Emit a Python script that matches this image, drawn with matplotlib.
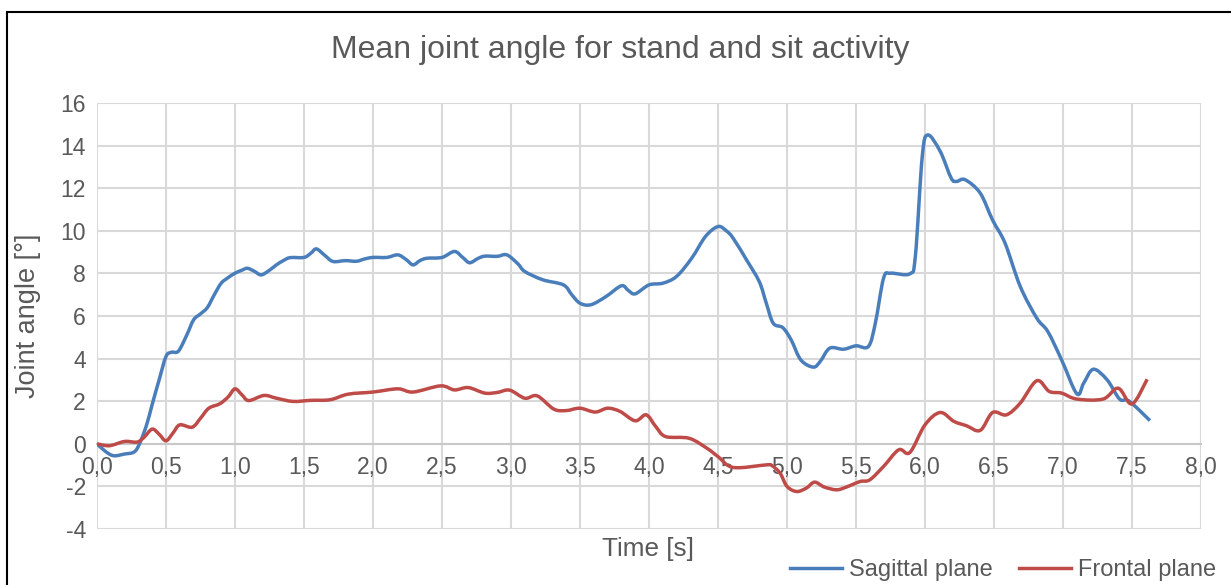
import matplotlib
matplotlib.use("Agg")
import matplotlib.pyplot as plt
from matplotlib.patches import Rectangle, PathPatch
from matplotlib.path import Path
from matplotlib.lines import Line2D
from matplotlib.ticker import FixedLocator

plt.rcParams['font.family'] = ['Liberation Sans', 'DejaVu Sans']
plt.rcParams['axes.unicode_minus'] = False

# Sagittal plane joint angle (degrees) vs time (s)
t_sag = [0.00, 0.06, 0.12, 0.20, 0.27, 0.31, 0.36, 0.40, 0.45, 0.50,
         0.54, 0.59, 0.65, 0.70, 0.75, 0.80, 0.85, 0.90, 0.95, 1.00,
         1.05, 1.09, 1.14, 1.19, 1.25, 1.30, 1.35, 1.40, 1.50, 1.55,
         1.59, 1.65, 1.71, 1.80, 1.88, 1.94, 2.00, 2.10, 2.18, 2.24,
         2.29, 2.34, 2.39, 2.50, 2.59, 2.65, 2.70, 2.76, 2.81, 2.90,
         2.97, 3.05, 3.10, 3.23, 3.38, 3.44, 3.50, 3.58, 3.69, 3.80,
         3.85, 3.90, 4.00, 4.10, 4.20, 4.31, 4.41, 4.50, 4.56, 4.61,
         4.71, 4.80, 4.85, 4.90, 4.97, 5.03, 5.10, 5.19, 5.24, 5.31,
         5.41, 5.50, 5.59, 5.64, 5.70, 5.75, 5.89, 5.93, 5.98, 6.02,
         6.11, 6.19, 6.23, 6.29, 6.40, 6.49, 6.58, 6.69, 6.81, 6.89,
         6.99, 7.10, 7.15, 7.22, 7.32, 7.41, 7.48, 7.63]
sagittal = [0.00, -0.35, -0.56, -0.48, -0.38, 0.03, 0.90, 1.85, 3.00, 4.10,
            4.30, 4.35, 5.10, 5.82, 6.10, 6.40, 7.00, 7.54, 7.80, 8.01,
            8.15, 8.24, 8.10, 7.93, 8.15, 8.40, 8.60, 8.74, 8.75, 8.95,
            9.15, 8.85, 8.56, 8.60, 8.57, 8.68, 8.75, 8.75, 8.87, 8.65,
            8.40, 8.60, 8.71, 8.75, 9.03, 8.75, 8.50, 8.70, 8.81, 8.80,
            8.87, 8.45, 8.09, 7.70, 7.46, 7.00, 6.60, 6.53, 6.92, 7.42,
            7.20, 7.04, 7.46, 7.54, 7.86, 8.72, 9.74, 10.20, 10.00, 9.65,
            8.60, 7.60, 6.60, 5.66, 5.45, 4.88, 3.94, 3.60, 3.86, 4.49,
            4.44, 4.60, 4.57, 5.66, 7.78, 8.01, 7.98, 8.80, 13.49, 14.50,
            13.73, 12.47, 12.32, 12.40, 11.77, 10.50, 9.42, 7.39, 5.90, 5.27,
            3.94, 2.35, 2.85, 3.50, 3.00, 2.10, 2.00, 1.09]

# Frontal plane joint angle (degrees) vs time (s)
t_fro = [0.00, 0.09, 0.20, 0.29, 0.34, 0.40, 0.45, 0.50, 0.55, 0.60,
         0.69, 0.75, 0.81, 0.89, 0.95, 1.00, 1.05, 1.10, 1.21, 1.30,
         1.42, 1.55, 1.69, 1.82, 2.00, 2.18, 2.29, 2.49, 2.59, 2.69,
         2.81, 2.90, 2.99, 3.10, 3.19, 3.31, 3.40, 3.50, 3.61, 3.70,
         3.79, 3.90, 3.98, 4.05, 4.12, 4.29, 4.42, 4.50, 4.61, 4.85,
         4.89, 4.95, 5.00, 5.07, 5.14, 5.20, 5.27, 5.36, 5.43, 5.53,
         5.60, 5.70, 5.81, 5.89, 6.00, 6.11, 6.21, 6.30, 6.40, 6.49,
         6.59, 6.69, 6.81, 6.90, 6.99, 7.10, 7.29, 7.40, 7.50, 7.61]
frontal = [0.00, -0.09, 0.11, 0.08, 0.30, 0.69, 0.45, 0.14, 0.50, 0.89,
           0.78, 1.20, 1.67, 1.88, 2.20, 2.58, 2.30, 2.03, 2.27, 2.14,
           1.99, 2.04, 2.07, 2.33, 2.43, 2.58, 2.43, 2.72, 2.53, 2.64,
           2.38, 2.41, 2.52, 2.14, 2.25, 1.63, 1.56, 1.67, 1.49, 1.67,
           1.52, 1.08, 1.36, 0.80, 0.34, 0.26, -0.21, -0.60, -1.11, -0.99,
           -1.02, -1.38, -2.00, -2.24, -2.08, -1.80, -2.03, -2.16, -2.03, -1.77,
           -1.69, -1.06, -0.28, -0.41, 0.89, 1.47, 1.05, 0.85, 0.63, 1.47,
           1.36, 1.91, 2.96, 2.46, 2.38, 2.10, 2.10, 2.61, 1.87, 3.03]

x_ticks = [0.0, 0.5, 1.0, 1.5, 2.0, 2.5, 3.0, 3.5, 4.0, 4.5, 5.0, 5.5, 6.0, 6.5, 7.0, 7.5, 8.0]
x_tick_labels = [f"{v:.1f}".replace('.', ',') for v in x_ticks]
y_ticks = [-4, -2, 0, 2, 4, 6, 8, 10, 12, 14, 16]

TEXT = '#595959'
GRID = '#d9d9d9'
BLUE = '#4a7ebb'
RED = '#be4b48'
LW = 2.5


def smooth_path(xs, ys):
    """Cubic Bezier path through the points (Catmull-Rom tangents)."""
    n = len(xs)
    verts = [(xs[0], ys[0])]
    codes = [Path.MOVETO]
    for i in range(n - 1):
        i0 = max(i - 1, 0)
        i3 = min(i + 2, n - 1)
        c1 = (xs[i] + (xs[i + 1] - xs[i0]) / 6, ys[i] + (ys[i + 1] - ys[i0]) / 6)
        c2 = (xs[i + 1] - (xs[i3] - xs[i]) / 6, ys[i + 1] - (ys[i3] - ys[i]) / 6)
        verts += [c1, c2, (xs[i + 1], ys[i + 1])]
        codes += [Path.CURVE4] * 3
    return Path(verts, codes)


fig = plt.figure(figsize=(12.31, 5.85), dpi=100)
ax = fig.add_axes([97 / 1231, 56 / 585, 1104 / 1231, 426 / 585])

ax.set_xlim(0, 8)
ax.set_ylim(-4, 16)
ax.xaxis.set_major_locator(FixedLocator(x_ticks))
ax.set_xticklabels(x_tick_labels)
ax.yaxis.set_major_locator(FixedLocator(y_ticks))

ax.grid(True, color=GRID, linewidth=1.5, zorder=0)
ax.set_axisbelow(True)
for side in ['left', 'right', 'top']:
    ax.spines[side].set_visible(False)
ax.spines['bottom'].set_position(('data', 0))
ax.spines['bottom'].set_color('#c8c8c8')
ax.spines['bottom'].set_linewidth(1.5)
ax.spines['bottom'].set_zorder(0.6)

ax.tick_params(axis='both', length=0, labelsize=16.5, labelcolor=TEXT)
ax.tick_params(axis='x', pad=9)
ax.tick_params(axis='y', pad=8)

for xs, ys, col in [(t_sag, sagittal, BLUE), (t_fro, frontal, RED)]:
    ax.add_patch(PathPatch(smooth_path(xs, ys), fill=False, edgecolor=col,
                           linewidth=LW, joinstyle='round', capstyle='butt',
                           zorder=3))

fig.text(620 / 1231, 1 - 50 / 585, 'Mean joint angle for stand and sit activity',
         ha='center', va='center', fontsize=23, color=TEXT)
fig.text(648 / 1231, 1 - 549 / 585, 'Time [s]', ha='center', va='center',
         fontsize=18.8, color=TEXT)
fig.text(28 / 1231, 1 - 316 / 585, 'Joint angle [°]', ha='center', va='center',
         rotation=90, fontsize=19.5, color=TEXT)

handles = [Line2D([], [], color=BLUE, linewidth=LW),
           Line2D([], [], color=RED, linewidth=LW)]
fig.legend(handles, ['Sagittal plane', 'Frontal plane'], loc='center',
           bbox_to_anchor=(1003 / 1231, 1 - 570 / 585), ncol=2,
           frameon=False, fontsize=17, labelcolor=TEXT, handlelength=2.2,
           handletextpad=0.3, columnspacing=1.1, borderpad=0, borderaxespad=0)

# outer chart frame
fig.add_artist(Rectangle((7 / 1231, -0.1), 1.2, 1.1 - 12 / 585,
                         transform=fig.transFigure, fill=False,
                         edgecolor='black', linewidth=1.5, clip_on=False))

fig.savefig('out.png', dpi=100)
